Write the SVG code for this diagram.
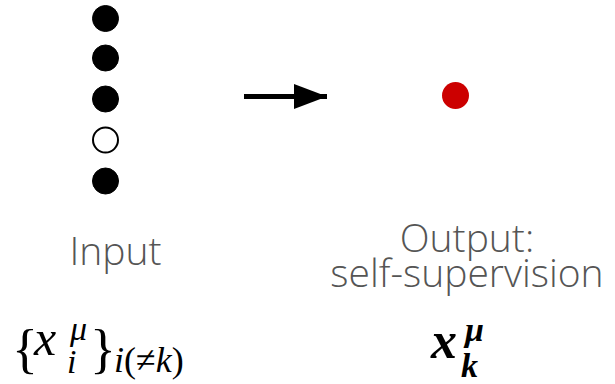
<svg xmlns="http://www.w3.org/2000/svg" width="615" height="384" viewBox="0 0 615 384">
<style>
.dot{fill:#000;stroke:#000;stroke-width:1}
.hollow{fill:#fff;stroke:#000;stroke-width:2}
.lbl{font-family:"Open Sans","Liberation Sans",sans-serif;font-weight:300;font-size:39px;fill:#555;text-anchor:middle}
</style>
<defs>
<marker id="ah" markerWidth="7" markerHeight="5" refX="6.6" refY="2.5" orient="auto" markerUnits="strokeWidth">
<path d="M0,0 L6.6,2.5 L0,5 Z" fill="#000"/>
</marker>
</defs>
<g id="input-nodes">
<circle class="dot" cx="105.5" cy="18.5" r="13"/>
<circle class="dot" cx="105.5" cy="58" r="13"/>
<circle class="dot" cx="105.5" cy="99" r="13"/>
<circle class="hollow" cx="105.5" cy="140" r="12.5"/>
<circle class="dot" cx="105.5" cy="181" r="13"/>
</g>
<g id="output-node">
<circle cx="455.5" cy="95.5" r="13.5" fill="#cc0000"/>
</g>
<g id="connectors">
<line x1="244" y1="96.5" x2="327" y2="96.5" stroke="#000" stroke-width="5" marker-end="url(#ah)"/>
</g>
<g id="input-label">
<text class="lbl" x="115.5" y="265">Input</text>
<text font-family="Liberation Serif" x="12" y="367" font-size="54">{</text>
<text font-family="Liberation Serif" font-style="italic" x="34" y="355" font-size="50">x</text>
<text font-family="Liberation Serif" font-style="italic" x="70" y="340" font-size="34">μ</text>
<text font-family="Liberation Serif" font-style="italic" x="67" y="373" font-size="34">i</text>
<text font-family="Liberation Serif" x="90" y="367" font-size="54">}</text>
<text font-family="Liberation Serif" x="114" y="372" font-size="36"><tspan font-style="italic">i</tspan>(≠<tspan font-style="italic">k</tspan>)</text>
</g>
<g id="output-label">
<text class="lbl" x="467" y="252">Output:</text>
<text class="lbl" x="467" y="287">self-supervision</text>
<text font-family="Liberation Serif" font-style="italic" x="431" y="358" font-size="52" font-weight="bold">x</text>
<text font-family="Liberation Serif" font-style="italic" x="465" y="341" font-size="34" font-weight="bold">μ</text>
<text font-family="Liberation Serif" font-style="italic" x="461" y="377" font-size="34" font-weight="bold">k</text>
</g>
</svg>
